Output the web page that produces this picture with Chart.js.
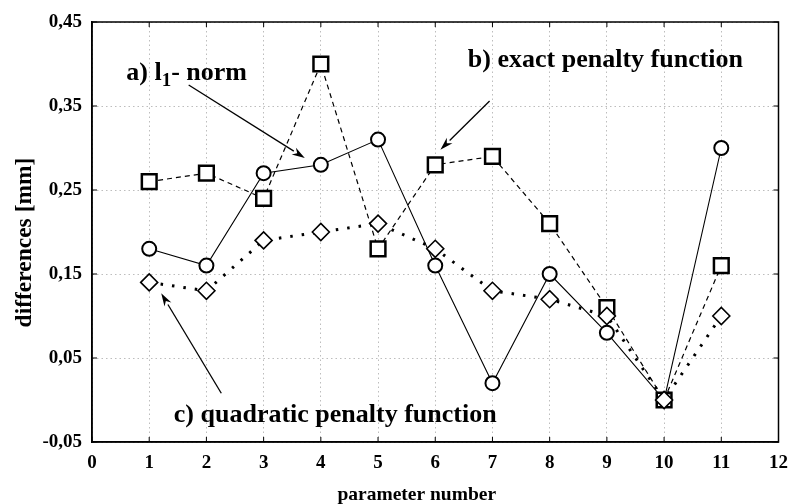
<!DOCTYPE html>
<html>
<head>
<meta charset="UTF-8">
<title>differences</title>
<script src="https://cdn.jsdelivr.net/npm/chart.js"></script>
<style>
    body { margin: 0; background: #fff; }
    #wrap { width: 798px; height: 504px; }
</style>
</head>
<body>
<div id="wrap"><canvas id="chart" width="798" height="504"></canvas></div>
<script>
    // values
    const params = [1, 2, 3, 4, 5, 6, 7, 8, 9, 10, 11];
    const l1Norm = [0.18, 0.16, 0.27, 0.28, 0.31, 0.16, 0.02, 0.15, 0.08, 0.00, 0.30];
    const exactPenalty = [0.26, 0.27, 0.24, 0.40, 0.18, 0.28, 0.29, 0.21, 0.11, 0.00, 0.16];
    const quadraticPenalty = [0.14, 0.13, 0.19, 0.20, 0.21, 0.18, 0.13, 0.12, 0.10, 0.00, 0.10];
    const xTicks = [0, 1, 2, 3, 4, 5, 6, 7, 8, 9, 10, 11, 12];
    const yTicks = [-0.05, 0.05, 0.15, 0.25, 0.35, 0.45];
    const xTitle = 'parameter number';
    const yTitle = 'differences [mm]';

    const serif = "'Liberation Serif', 'Times New Roman', serif";

    function points(ys) {
        return params.map((x, i) => ({x: x, y: ys[i]}));
    }

    // labels with arrows, in data units
    const notes = [
        {parts: [['a) l', 26, 0], ['1', 19, 6], ['- norm', 26, 0]], x: 0.60, y: 0.381,
            from: [1.69, 0.375], to: [3.72, 0.288]},
        {parts: [['b) exact penalty function', 26, 0]], x: 6.57, y: 0.396,
            from: [6.95, 0.356], to: [6.09, 0.298]},
        {parts: [['c) quadratic penalty function', 26, 0]], x: 1.43, y: -0.026,
            from: [2.26, 0.008], to: [1.21, 0.127]}
    ];

    const boxPlugin = {
        id: 'box',
        afterDatasetsDraw(chart) {
            const ctx = chart.ctx;
            const a = chart.chartArea;
            const xs = chart.scales.x, ys = chart.scales.y;
            ctx.save();
            ctx.strokeStyle = '#000';
            ctx.lineWidth = 1.5;
            ctx.strokeRect(a.left, a.top, a.right - a.left, a.bottom - a.top);
            // small inward ticks
            ctx.lineWidth = 1;
            ctx.beginPath();
            xTicks.forEach(v => {
                const px = xs.getPixelForValue(v);
                ctx.moveTo(px, a.bottom); ctx.lineTo(px, a.bottom - 5);
                ctx.moveTo(px, a.top); ctx.lineTo(px, a.top + 5);
            });
            yTicks.forEach(v => {
                const py = ys.getPixelForValue(v);
                ctx.moveTo(a.left, py); ctx.lineTo(a.left + 5, py);
                ctx.moveTo(a.right, py); ctx.lineTo(a.right - 5, py);
            });
            ctx.stroke();

            // axis titles (the original sits a bit off centre)
            ctx.fillStyle = '#000';
            ctx.textAlign = 'center';
            ctx.textBaseline = 'middle';
            ctx.font = 'bold 19.5px ' + serif;
            ctx.fillText(xTitle, a.left + (a.right - a.left) * 0.473, a.bottom + 53);
            ctx.save();
            ctx.translate(25, a.top + (a.bottom - a.top) * 0.525);
            ctx.rotate(-Math.PI / 2);
            ctx.font = 'bold 23.5px ' + serif;
            ctx.fillText(yTitle, 0, 0);
            ctx.restore();

            // annotations
            ctx.textBaseline = 'alphabetic';
            ctx.textAlign = 'left';
            notes.forEach(n => {
                let px = xs.getPixelForValue(n.x);
                const py = ys.getPixelForValue(n.y);
                n.parts.forEach(p => {
                    ctx.font = 'bold ' + p[1] + 'px ' + serif;
                    ctx.fillText(p[0], px, py + p[2]);
                    px += ctx.measureText(p[0]).width;
                });
                const x1 = xs.getPixelForValue(n.from[0]), y1 = ys.getPixelForValue(n.from[1]);
                const x2 = xs.getPixelForValue(n.to[0]), y2 = ys.getPixelForValue(n.to[1]);
                const ang = Math.atan2(y2 - y1, x2 - x1);
                const len = 13, hw = 4;
                const bx = x2 - len * Math.cos(ang), by = y2 - len * Math.sin(ang);
                ctx.lineWidth = 1.3;
                ctx.beginPath();
                ctx.moveTo(x1, y1);
                ctx.lineTo(bx, by);
                ctx.stroke();
                ctx.beginPath();
                ctx.moveTo(x2, y2);
                ctx.lineTo(bx + hw * Math.sin(ang), by - hw * Math.cos(ang));
                ctx.lineTo(x2 - (len - 4) * Math.cos(ang), y2 - (len - 4) * Math.sin(ang));
                ctx.lineTo(bx - hw * Math.sin(ang), by + hw * Math.cos(ang));
                ctx.closePath();
                ctx.fill();
            });
            ctx.restore();
        }
    };

    new Chart(document.getElementById('chart'), {
        type: 'scatter',
        data: {
            // index 0 is painted last (on top)
            datasets: [
                {
                    label: 'c) quadratic penalty function',
                    data: points(quadraticPenalty),
                    showLine: true,
                    borderColor: '#000',
                    borderWidth: 3,
                    borderDash: [2.5, 9],
                    pointStyle: 'rectRot',
                    pointRadius: 8.5,
                    pointBorderWidth: 1.6,
                    pointBackgroundColor: '#fff',
                    pointBorderColor: '#000'
                },
                {
                    label: 'b) exact penalty function',
                    data: points(exactPenalty),
                    showLine: true,
                    borderColor: '#000',
                    borderWidth: 1.2,
                    borderDash: [5, 4],
                    pointStyle: 'rect',
                    pointRadius: 10.4,
                    pointBorderWidth: 2.5,
                    pointBackgroundColor: '#fff',
                    pointBorderColor: '#000'
                },
                {
                    label: 'a) l1- norm',
                    data: points(l1Norm),
                    showLine: true,
                    borderColor: '#000',
                    borderWidth: 1.1,
                    pointStyle: 'circle',
                    pointRadius: 7,
                    pointBorderWidth: 2,
                    pointBackgroundColor: '#fff',
                    pointBorderColor: '#000'
                }
            ]
        },
        options: {
            responsive: false,
            animation: false,
            events: [],
            layout: {padding: {top: 22, right: 10, bottom: 0, left: 0}},
            plugins: {legend: {display: false}, tooltip: {enabled: false}},
            scales: {
                x: {
                    type: 'linear',
                    min: 0,
                    max: 12,
                    afterFit(scale) { scale.height = 62; },
                    afterBuildTicks(scale) { scale.ticks = xTicks.map(v => ({value: v})); },
                    grid: {color: '#bdbdbd', lineWidth: 1, drawTicks: false},
                    border: {display: true, color: '#000', width: 1.5, dash: [1.5, 3]},
                    ticks: {
                        padding: 10,
                        color: '#000',
                        font: {family: serif, size: 19, weight: 'bold'},
                        callback: v => String(v)
                    }
                },
                y: {
                    min: -0.05,
                    max: 0.45,
                    afterFit(scale) { scale.width = 92; },
                    afterBuildTicks(scale) { scale.ticks = yTicks.map(v => ({value: v})); },
                    grid: {color: '#bdbdbd', lineWidth: 1, drawTicks: false},
                    border: {display: true, color: '#000', width: 1.5, dash: [1.5, 3]},
                    ticks: {
                        padding: 10,
                        color: '#000',
                        font: {family: serif, size: 19, weight: 'bold'},
                        callback: v => v.toFixed(2).replace('.', ',')
                    }
                }
            }
        },
        plugins: [boxPlugin]
    });
</script>
</body>
</html>
